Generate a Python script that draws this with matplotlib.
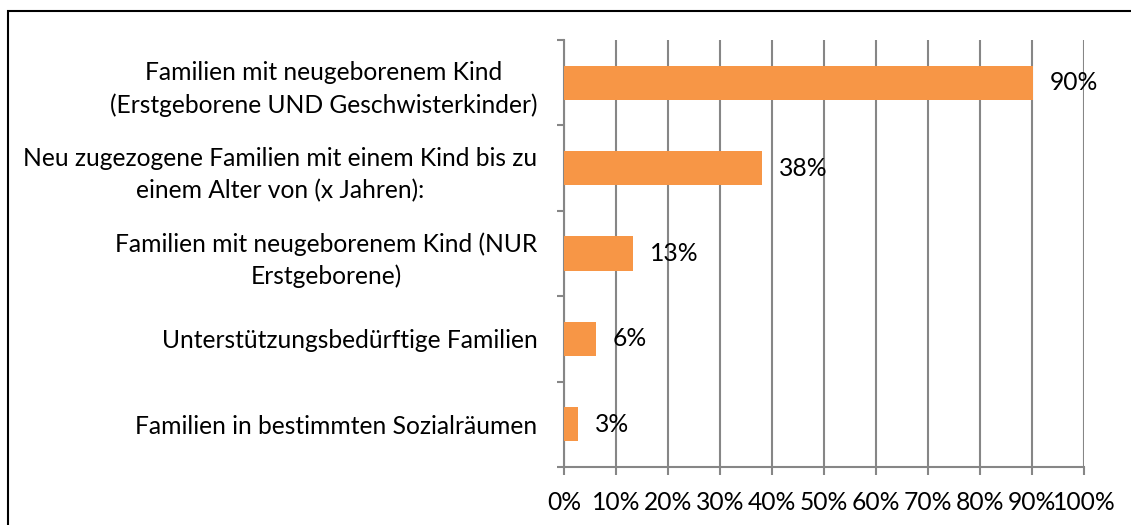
import matplotlib.pyplot as plt
from matplotlib.patches import Rectangle

plt.switch_backend('agg')
plt.rcParams['font.family'] = ['Lato', 'DejaVu Sans']

# Daten
kategorien = [
    "Familien mit neugeborenem Kind\n(Erstgeborene UND Geschwisterkinder)",
    "Neu zugezogene Familien mit einem Kind bis zu\neinem Alter von (x Jahren):",
    "Familien mit neugeborenem Kind (NUR\nErstgeborene)",
    "Unterstützungsbedürftige Familien",
    "Familien in bestimmten Sozialräumen",
]
werte = [90.2, 38.1, 13.3, 6.2, 2.7]
beschriftung = ["90%", "38%", "13%", "6%", "3%"]
x_ticks = list(range(0, 101, 10))

W, H, DPI = 1131, 525, 100
fs = 17.7
fig = plt.figure(figsize=(W / DPI, H / DPI), dpi=DPI)
ax = fig.add_axes([564 / W, 1 - 467 / H, (1084 - 564) / W, (467 - 40) / H])

grau = '#868686'
pos = list(range(len(kategorien)))
ax.barh(pos, werte, height=0.4, color='#F79646', zorder=3)
ax.set_ylim(len(kategorien) - 0.5, -0.5)
ax.set_xlim(0, 100)

for p, v, t in zip(pos, werte, beschriftung):
    ax.annotate(t, (v, p), xytext=(12, 0), textcoords='offset points',
                va='center', ha='left', fontsize=fs, zorder=4)

ax.set_xticks(x_ticks)
ax.set_xticklabels([f"{t}%" for t in x_ticks], fontsize=fs)
ax.set_yticks(pos)
ax.set_yticklabels(kategorien, fontsize=fs, multialignment='center',
                   linespacing=1.45)
ax.set_yticks([p - 0.5 for p in range(len(kategorien) + 1)], minor=True)
ax.tick_params(axis='y', which='major', length=0, pad=19)
ax.tick_params(axis='y', which='minor', length=5, color=grau, width=1.5)
ax.tick_params(axis='x', length=6, color=grau, width=1.5, pad=11)

ax.grid(axis='x', color=grau, linewidth=1.5, zorder=0)
for s in ['top', 'right']:
    ax.spines[s].set_visible(False)
for s in ['left', 'bottom']:
    ax.spines[s].set_color(grau)
    ax.spines[s].set_linewidth(1.5)

# Rahmen (nur links und oben sichtbar)
fig.patches.append(Rectangle((7.5 / W, -0.1), 1.2, 1.1 - 11 / H,
                             transform=fig.transFigure, fill=False,
                             edgecolor='black', linewidth=1.5))

plt.savefig('out.png', dpi=DPI)
